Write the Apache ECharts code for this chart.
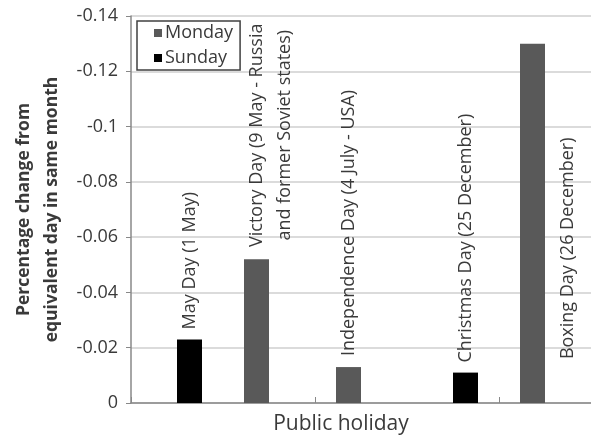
<!DOCTYPE html>
<html>
<head>
<meta charset="utf-8">
<script src="https://cdn.jsdelivr.net/npm/echarts@6/dist/echarts.min.js"></script>
<style>html,body{margin:0;padding:0;background:#fff}#c{width:591px;height:440px}</style>
</head>
<body>
<div id="c"></div>
<script>
var categories = ['May Day', 'Victory Day', 'Independence Day', 'Christmas Day', 'Boxing Day'];
var labelTexts = ['May Day (1 May)', 'Victory Day (9 May - Russia\nand former Soviet states)', 'Independence Day (4 July - USA)', 'Christmas Day (25 December)', 'Boxing Day (26 December)'];
var mondayValues = [null, -0.052, -0.013, null, -0.13];
var sundayValues = [-0.023, null, null, -0.011, null];
var yTicks = [-0.14, -0.12, -0.1, -0.08, -0.06, -0.04, -0.02, 0];

var FONT = '"Open Sans", sans-serif';
// label styling per category (positions/styles only); offsets are in the rotated text frame
var labelStyles = [
  {position: 'top', distance: 10, align: 'left', offset: [0, 0]},
  {position: 'top', distance: 124, align: 'center', offset: [0, 14]},
  {position: 'top', distance: 11, align: 'left', offset: [0, 0]},
  {position: 'top', distance: 10, align: 'left', offset: [0, 0]},
  {position: 'right', distance: 23, align: 'center', offset: [-25, 0]}
];

function buildData(vals) {
  return vals.map(function (v, i) {
    if (v === null) return '-';
    var s = labelStyles[i];
    return {
      value: v,
      label: {
        show: true,
        formatter: labelTexts[i],
        rotate: 90,
        position: s.position,
        distance: s.distance,
        align: s.align,
        verticalAlign: 'middle',
        offset: s.offset,
        fontFamily: FONT,
        fontSize: 18,
        lineHeight: 28,
        color: '#3a3a3a'
      }
    };
  });
}

var chart = echarts.init(document.getElementById('c'));
chart.setOption({
  animation: false,
  backgroundColor: '#fff',
  grid: {left: 131, top: 16, right: 0, bottom: 37, outerBoundsMode: 'none', containLabel: false},
  legend: {
    orient: 'vertical',
    left: 137, top: 21,
    data: ['Monday', 'Sunday'],
    icon: 'rect',
    itemWidth: 8, itemHeight: 8,
    itemGap: 7,
    padding: [3, 7, 3, 17],
    borderColor: '#404040', borderWidth: 1.5,
    backgroundColor: '#fff',
    textStyle: {fontFamily: FONT, fontSize: 18, color: '#3a3a3a', padding: [0, 0, 0, -2]}
  },
  xAxis: {
    type: 'category',
    data: categories,
    name: 'Public holiday',
    nameLocation: 'middle',
    nameGap: 11,
    nameTextStyle: {fontFamily: FONT, fontSize: 21, color: '#3a3a3a', padding: [0, 40, 0, 0]},
    axisLine: {lineStyle: {color: '#888', width: 1.5}},
    axisTick: {show: true, inside: true, length: 6, lineStyle: {color: '#888'}},
    axisLabel: {show: false},
    splitLine: {show: false}
  },
  yAxis: {
    type: 'value',
    inverse: true,
    min: -0.14, max: 0, interval: 0.02,
    name: 'Percentage change from\nequivalent day in same month',
    nameLocation: 'middle',
    nameGap: 65,
    nameTextStyle: {fontFamily: FONT, fontSize: 17.5, fontWeight: 'bold', color: '#3a3a3a', lineHeight: 28},
    axisLine: {show: true, lineStyle: {color: '#888', width: 1.5}},
    axisTick: {show: true, length: 5, lineStyle: {color: '#888'}},
    axisLabel: {
      fontFamily: FONT, fontSize: 18, color: '#3a3a3a', margin: 13,
      formatter: function (v) { var r = Math.round(v * 100) / 100; for (var i = 0; i < yTicks.length; i++) { if (Math.abs(yTicks[i] - r) < 1e-9) return String(yTicks[i]); } return String(r); }
    },
    splitLine: {lineStyle: {color: '#cfcfcf', width: 1.5}}
  },
  series: [
    {name: 'Monday', type: 'bar', data: buildData(mondayValues), barWidth: 25, barGap: '0%', itemStyle: {color: '#595959'}},
    {name: 'Sunday', type: 'bar', data: buildData(sundayValues), barWidth: 25, barGap: '0%', itemStyle: {color: '#000000'}}
  ]
});
</script>
</body>
</html>
